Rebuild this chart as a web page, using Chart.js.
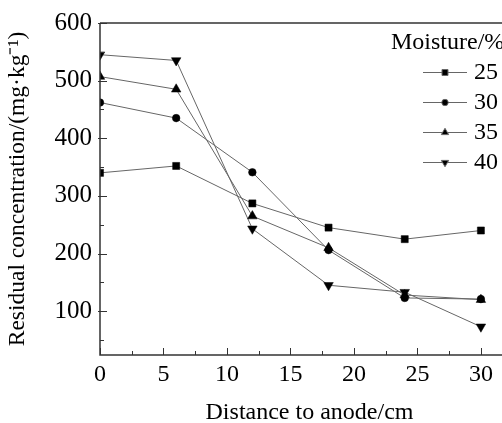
<!DOCTYPE html>
<html lang="en">
<head>
    <meta charset="UTF-8">
    <title>Residual concentration</title>
    <script src="https://cdn.jsdelivr.net/npm/chart.js"></script>
    <style>
        html, body { margin: 0; padding: 0; background: #fff; overflow: hidden; }
        #wrap { width: 530px; height: 423px; }
    </style>
</head>
<body>
    <div id="wrap"><canvas id="chart" width="530" height="423"></canvas></div>

    <script>
        // Data
        const distance = [0, 6, 12, 18, 24, 30];
        const moisture = ['25', '30', '35', '40'];
        const m25 = [340, 352, 287, 245, 225, 240];
        const m30 = [462, 435, 341, 206, 123, 121];
        const m35 = [507, 485, 265, 210, 128, 120];
        const m40 = [545, 535, 243, 145, 133, 73];
        const xTicks = [0, 5, 10, 15, 20, 25, 30];
        const yTicks = [100, 200, 300, 400, 500, 600];

        const serif = '"Liberation Serif", "Times New Roman", serif';
        const markers = ['rect', 'circle', 'triangle', 'triangle'];
        const rotations = [0, 0, 0, 180];
        const radii = [5, 3.8, 5.5, 5.5];
        const legendRadii = [4.2, 3.2, 4.2, 4.2];
        const series = [m25, m30, m35, m40];

        const datasets = series.map((vals, i) => ({
            label: moisture[i],
            data: vals.map((v, j) => ({ x: distance[j], y: v })),
            borderColor: '#666',
            borderWidth: 1,
            pointStyle: markers[i],
            rotation: rotations[i],
            pointRadius: radii[i],
            pointBackgroundColor: '#000',
            pointBorderColor: '#000',
            pointBorderWidth: 0.5,
            showLine: true,
            fill: false
        }));

        // inward ticks, frame and legend drawn by hand
        const decorations = {
            id: 'decorations',
            afterDraw(chart) {
                const ctx = chart.ctx;
                const xs = chart.scales.x, ys = chart.scales.y;
                const a = chart.chartArea;
                ctx.save();
                ctx.strokeStyle = '#333';
                ctx.lineWidth = 1.5;
                ctx.beginPath();
                ctx.moveTo(a.left, a.top); ctx.lineTo(a.right, a.top);
                ctx.moveTo(a.left, a.top); ctx.lineTo(a.left, a.bottom);
                ctx.lineTo(a.right, a.bottom);
                ctx.stroke();

                ctx.lineWidth = 1;
                ctx.beginPath();
                for (let v = 0; v <= 32; v += 2.5) {
                    const px = Math.round(xs.getPixelForValue(v)) + 0.5;
                    const len = v % 5 === 0 ? 7 : 4;
                    ctx.moveTo(px, a.bottom); ctx.lineTo(px, a.bottom - len);
                }
                for (let v = 50; v <= 600; v += 50) {
                    const py = Math.round(ys.getPixelForValue(v)) + 0.5;
                    const len = v % 100 === 0 ? 7 : 4;
                    ctx.moveTo(a.left - (v % 100 === 0 ? 2 : 0), py); ctx.lineTo(a.left + len, py);
                }
                ctx.stroke();

                // legend
                ctx.fillStyle = '#000';
                ctx.font = '24px ' + serif;
                ctx.textBaseline = 'middle';
                ctx.textAlign = 'left';
                ctx.fillText('Moisture/%', 391, 43);
                chart.data.datasets.forEach((ds, i) => {
                    const y = 72 + i * 30;
                    ctx.strokeStyle = '#666';
                    ctx.beginPath();
                    ctx.moveTo(423, y + 0.5); ctx.lineTo(467, y + 0.5);
                    ctx.stroke();
                    Chart.helpers.drawPoint(ctx, {
                        pointStyle: ds.pointStyle,
                        rotation: ds.rotation,
                        radius: legendRadii[i],
                        borderWidth: 0.5
                    }, 445, y + 0.5);
                    ctx.fillText(ds.label, 474, y + 1);
                });
                ctx.restore();
            }
        };

        new Chart(document.getElementById('chart'), {
            type: 'scatter',
            data: { datasets: datasets },
            plugins: [decorations],
            options: {
                responsive: false,
                animation: false,
                layout: { padding: { top: 20, right: 11, left: 0, bottom: 0 } },
                plugins: { legend: { display: false }, tooltip: { enabled: false } },
                scales: {
                    x: {
                        type: 'linear',
                        min: 0, max: 33,
                        afterBuildTicks: s => { s.ticks = xTicks.map(v => ({ value: v })); },
                        afterFit: s => { s.height = 68; },
                        grid: { display: false, drawTicks: false },
                        border: { display: false },
                        ticks: { color: '#000', padding: 5, maxRotation: 0, font: { family: serif, size: 24 } },
                        title: {
                            display: true, text: 'Distance to anode/cm', color: '#000',
                            font: { family: serif, size: 24 }, padding: { top: 17, bottom: -4 }
                        }
                    },
                    y: {
                        min: 24, max: 600,
                        afterBuildTicks: s => { s.ticks = yTicks.map(v => ({ value: v })); },
                        afterFit: s => { s.width = 100; },
                        grid: { display: false, drawTicks: false },
                        border: { display: false },
                        ticks: { color: '#000', padding: 8, font: { family: serif, size: 25 } },
                        title: {
                            display: true, text: 'Residual concentration/(mg·kg⁻¹)', color: '#000',
                            font: { family: serif, size: 23.5 }, padding: { bottom: 2 }
                        }
                    }
                }
            }
        });
    </script>
</body>
</html>
